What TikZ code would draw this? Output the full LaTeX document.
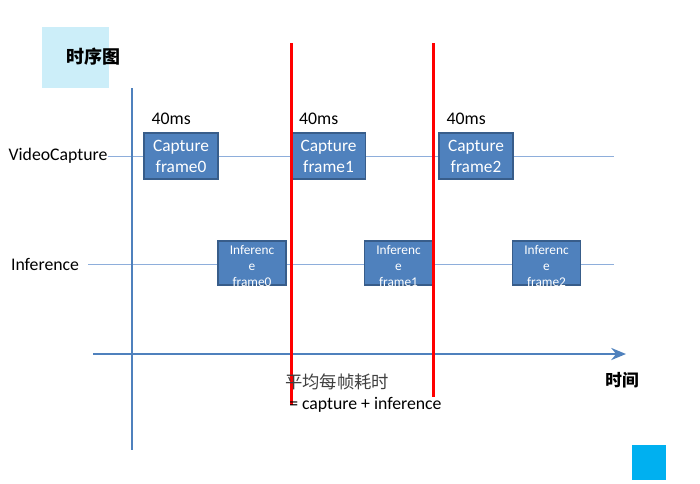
\documentclass[tikz,border=0pt]{standalone}
\usepackage{fontspec}
\setmainfont{Carlito}
\newfontfamily\cjk{Noto Sans CJK SC}
\usetikzlibrary{arrows.meta}
\definecolor{axisblue}{HTML}{4F81BD}
\definecolor{boxedge}{HTML}{385D8A}
\definecolor{lanecol}{HTML}{8EAEDB}
\definecolor{titlebg}{HTML}{CCEEF9}
\definecolor{cornerbg}{HTML}{00B0F0}
\tikzset{
  capbox/.style={draw=boxedge,fill=axisblue,line width=0.8pt,minimum width=55.5pt,minimum height=34.5pt,
    text=white,align=center,font=\fontsize{13}{15.75}\selectfont,inner sep=0pt},
  infbox/.style={draw=boxedge,fill=axisblue,line width=0.8pt,minimum width=51pt,minimum height=33pt,inner sep=0pt},
  inftext/.style={text=white,align=center,font=\fontsize{10}{12}\selectfont,inner sep=0pt},
  lane/.style={draw=lanecol,line width=0.6pt},
  cut/.style={draw=red,line width=2.25pt},
  lbl/.style={font=\fontsize{13.3}{15}\selectfont,inner sep=0pt}
}
\begin{document}
\begin{tikzpicture}[x=0.75pt,y=-0.75pt]
\useasboundingbox (0,0) rectangle (700,483);

% title and corner mark
\fill[titlebg] (42,27) rectangle (109,88);
\node[font=\cjk\fontsize{13.5}{14}\selectfont\bfseries] (title) at (93,57) {时序图};
\fill[cornerbg] (632,445) rectangle (666,480);

% lanes
\node[lbl] (vc) at (58,156) {VideoCapture};
\node[lbl] (inf) at (45,264) {Inference};
\coordinate (vcend) at (614,156);
\coordinate (infbeg) at (88,264);
\coordinate (infend) at (614,264);
\draw[lane] (vc.east) -- (vcend);
\draw[lane] (infbeg) -- (infend);

% axes
\coordinate (ytop) at (132,88);
\coordinate (ybot) at (132,450);
\coordinate (xbeg) at (93,354);
\coordinate (xend) at (626,354);
\draw[axisblue,line width=2.2pt] (ytop) -- (ybot);
\draw[axisblue,line width=2.2pt,-{Stealth[length=11pt,width=9pt]}] (xbeg) -- (xend);
\node[font=\cjk\fontsize{12.5}{14}\selectfont\bfseries] (tlabel) at (622,380) {时间};

% capture boxes
\foreach \i/\x in {0/181,1/328.5,2/476}{
  \node[capbox] (cap\i) at (\x,156) {Capture\\frame\i};
  \node[lbl,anchor=base west] (ms\i) at ([xshift=6pt,yshift=6pt]cap\i.north west) {40ms};
}

% inference boxes
\foreach \i/\x in {0/252,1/398.5,2/546.5}{
  \node[infbox] (inf\i) at (\x,263) {};
  \node[inftext] (inft\i) at ([yshift=-2.5pt]inf\i.center) {Inferenc\\e\\frame\i};
}

% per-frame cut lines
\coordinate (cuta) at (291.5,43);
\coordinate (cutab) at (291.5,405);
\coordinate (cutb) at (433,43);
\coordinate (cutbb) at (433,397);
\draw[cut] (cuta) -- (cutab);
\draw[cut] (cutb) -- (cutbb);

\node[font=\cjk\fontsize{13}{14}\selectfont\color{black!75},anchor=west,inner sep=0pt] (avg) at (285,382) {平均每帧耗时};
\node[lbl,anchor=west] (sum) at (289,405) {= capture + inference};
\end{tikzpicture}
\end{document}
